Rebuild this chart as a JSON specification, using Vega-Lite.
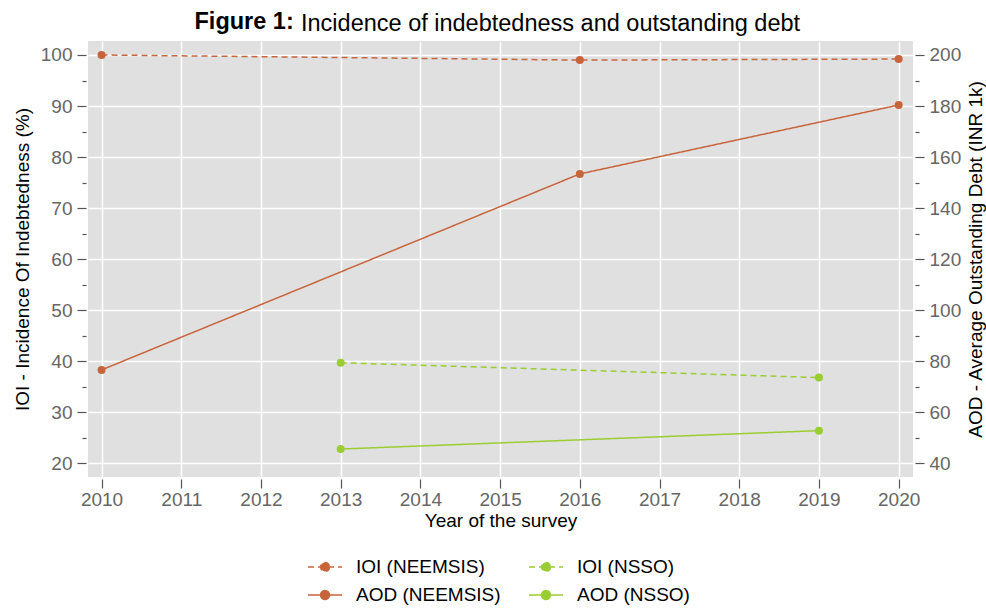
{
  "$schema": "https://vega.github.io/schema/vega-lite/v6.json",
  "width": 825,
  "height": 436,
  "autosize": {"type": "none"},
  "padding": {"left": 88, "top": 41, "right": 73, "bottom": 131},
  "background": "white",
  "config": {
    "font": "Liberation Sans",
    "view": {"fill": "#e0e0e0", "stroke": null}
  },
  "title": {
    "text": "Incidence of indebtedness and outstanding debt",
    "anchor": "start",
    "frame": "group",
    "dx": 213,
    "offset": -45,
    "fontSize": 23.5,
    "fontWeight": "normal",
    "color": "black",
    "baseline": "alphabetic"
  },
  "data": {
    "values": [
      {"year": 2010, "series": "IOI (NEEMSIS)", "measure": "IOI", "value": 100},
      {"year": 2016, "series": "IOI (NEEMSIS)", "measure": "IOI", "value": 99.0},
      {"year": 2020, "series": "IOI (NEEMSIS)", "measure": "IOI", "value": 99.2},
      {"year": 2013, "series": "IOI (NSSO)", "measure": "IOI", "value": 39.7},
      {"year": 2019, "series": "IOI (NSSO)", "measure": "IOI", "value": 36.8},
      {"year": 2010, "series": "AOD (NEEMSIS)", "measure": "AOD", "value": 76.6},
      {"year": 2016, "series": "AOD (NEEMSIS)", "measure": "AOD", "value": 153.4},
      {"year": 2020, "series": "AOD (NEEMSIS)", "measure": "AOD", "value": 180.4},
      {"year": 2013, "series": "AOD (NSSO)", "measure": "AOD", "value": 45.6},
      {"year": 2019, "series": "AOD (NSSO)", "measure": "AOD", "value": 52.8}
    ]
  },
  "encoding": {
    "color": {
      "field": "series",
      "type": "nominal",
      "scale": {
        "domain": ["IOI (NEEMSIS)", "IOI (NSSO)", "AOD (NEEMSIS)", "AOD (NSSO)"],
        "range": ["#c8643b", "#9acd32", "#c8643b", "#9acd32"]
      },
      "legend": {
        "title": null,
        "orient": "none",
        "legendX": 219,
        "legendY": 508,
        "columns": 2,
        "direction": "horizontal",
        "padding": 0,
        "columnPadding": 25,
        "rowPadding": -6,
        "symbolType": "M-1,0L1,0M0.26,0A0.26,0.26,0,1,1,-0.26,0A0.26,0.26,0,1,1,0.26,0Z",
        "symbolSize": 1156,
        "symbolStrokeWidth": 1.5,
        "labelOffset": 13,
        "labelFontSize": 19,
        "labelColor": "black",
        "labelFont": "Liberation Sans",
        "encode": {
          "symbols": {
            "update": {
              "fill": {"scale": "color", "field": "value"},
              "fillOpacity": {"value": 1},
              "opacity": {"value": 1}
            }
          }
        }
      }
    },
    "strokeDash": {
      "field": "series",
      "type": "nominal",
      "scale": {
        "domain": ["IOI (NEEMSIS)", "IOI (NSSO)", "AOD (NEEMSIS)", "AOD (NSSO)"],
        "range": [[6, 4], [6, 4], [1, 0], [1, 0]]
      },
      "legend": null
    }
  },
  "layer": [
    {
      "transform": [{"filter": "datum.measure === 'IOI'"}],
      "mark": {"type": "line", "strokeWidth": 1.5, "point": {"filled": true, "size": 64}},
      "encoding": {
        "x": {
          "field": "year",
          "type": "quantitative",
          "scale": {"domain": [2009.83, 2020.18], "nice": false, "zero": false},
          "axis": {
            "orient": "bottom",
            "values": [2010, 2011, 2012, 2013, 2014, 2015, 2016, 2017, 2018, 2019, 2020],
            "format": "d",
            "offset": 2,
            "domain": false,
            "tickSize": 9,
            "tickColor": "#555555",
            "tickWidth": 1.2,
            "labelColor": "#666666",
            "labelFontSize": 19,
            "labelPadding": 2,
            "grid": true,
            "gridColor": "white",
            "gridWidth": 1.5,
            "title": "Year of the survey",
            "titleFontSize": 19,
            "titleFontWeight": "normal",
            "titleColor": "black",
            "titlePadding": 2
          }
        },
        "y": {
          "field": "value",
          "type": "quantitative",
          "scale": {"domain": [17.32, 102.74], "nice": false, "zero": false},
          "axis": {
            "orient": "left",
            "values": [20, 25, 30, 35, 40, 45, 50, 55, 60, 65, 70, 75, 80, 85, 90, 95, 100],
            "labelExpr": "datum.value % 10 === 0 ? datum.label : ''",
            "offset": 2,
            "domain": false,
            "tickSize": {"condition": {"test": "datum.value % 10 === 0", "value": 9}, "value": 4},
            "tickColor": "#555555",
            "tickWidth": 1.2,
            "labelColor": "#666666",
            "labelFontSize": 19,
            "labelPadding": 5,
            "grid": true,
            "gridColor": "white",
            "gridWidth": 1.5,
            "gridOpacity": {"condition": {"test": "datum.value % 10 === 0", "value": 1}, "value": 0},
            "title": "IOI - Incidence Of Indebtedness (%)",
            "titleFontSize": 19,
            "titleFontWeight": "normal",
            "titleColor": "black",
            "titlePadding": 8
          }
        }
      }
    },
    {
      "transform": [{"filter": "datum.measure === 'AOD'"}],
      "mark": {"type": "line", "strokeWidth": 1.5, "point": {"filled": true, "size": 64}},
      "encoding": {
        "x": {
          "field": "year",
          "type": "quantitative",
          "axis": {
            "orient": "top",
            "labels": false,
            "ticks": false,
            "domain": false,
            "grid": false,
            "title": "Figure 1:",
            "titleFontSize": 23.5,
            "titleFontWeight": "bold",
            "titleColor": "black",
            "titleX": 106,
            "titleY": -13,
            "titleAlign": "left",
            "titleAngle": 0,
            "titleBaseline": "alphabetic"
          }
        },
        "y": {
          "field": "value",
          "type": "quantitative",
          "scale": {"domain": [34.64, 205.48], "nice": false, "zero": false},
          "axis": {
            "orient": "right",
            "values": [40, 50, 60, 70, 80, 90, 100, 110, 120, 130, 140, 150, 160, 170, 180, 190, 200],
            "labelExpr": "datum.value % 20 === 0 ? datum.label : ''",
            "offset": 2,
            "domain": false,
            "tickSize": {"condition": {"test": "datum.value % 20 === 0", "value": 9}, "value": 4},
            "tickColor": "#555555",
            "tickWidth": 1.2,
            "labelColor": "#666666",
            "labelFontSize": 19,
            "labelPadding": 5,
            "grid": false,
            "title": "AOD - Average Outstanding Debt (INR 1k)",
            "titleFontSize": 19,
            "titleFontWeight": "normal",
            "titleColor": "black",
            "titleAngle": 270,
            "titlePadding": 25
          }
        }
      }
    }
  ],
  "resolve": {
    "scale": {"y": "independent"},
    "axis": {"x": "independent", "y": "independent"}
  }
}
